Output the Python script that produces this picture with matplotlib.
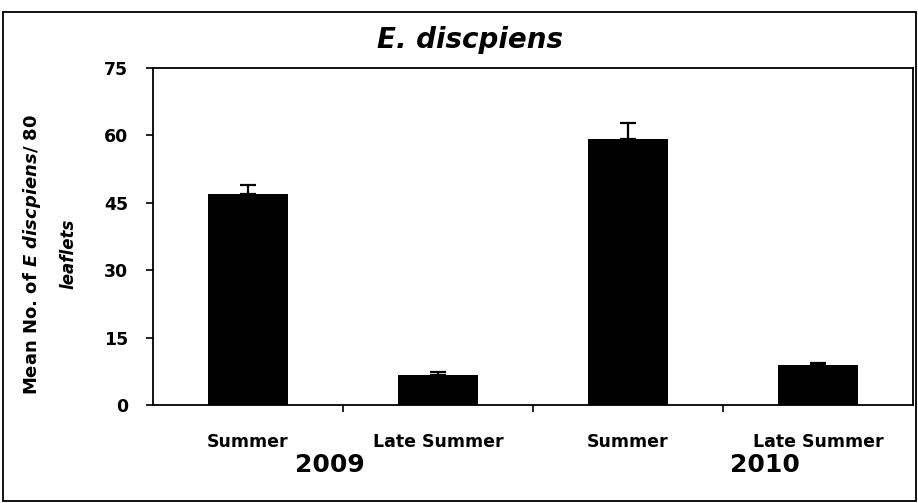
import matplotlib
matplotlib.use("Agg")
import matplotlib.pyplot as plt
from matplotlib.patches import Rectangle

categories = ["Summer", "Late Summer", "Summer", "Late Summer"]
means = [47.0, 6.7, 59.2, 8.9]
errors = [2.0, 0.6, 3.6, 0.5]
years = ["2009", "2010"]
year_pos = [0.43, 2.72]
yticks = [0, 15, 30, 45, 60, 75]

plt.rcParams['font.family'] = ['DejaVu Sans']
plt.rcParams['mathtext.fontset'] = 'custom'
plt.rcParams['mathtext.it'] = 'DejaVu Sans:italic:bold'
plt.rcParams['mathtext.rm'] = 'DejaVu Sans:bold'

W, H = 918, 503
fig = plt.figure(figsize=(W / 100, H / 100), dpi=100)
ax = fig.add_axes([153 / W, (H - 405) / H, 760 / W, 337 / H])

x = list(range(len(categories)))
ax.bar(x, means, width=0.42, color='black', zorder=2)
ax.errorbar(x, means, yerr=[[0] * len(errors), errors], fmt='none',
            ecolor='black', elinewidth=1.6, capsize=5.5, capthick=1.6, zorder=3)

ax.set_xlim(-0.5, len(categories) - 0.5)
ax.set_ylim(0, 75)
ax.set_yticks(yticks)
ax.set_yticklabels([str(v) for v in yticks], fontsize=12.5, fontweight='bold')
ax.tick_params(axis='y', direction='out', length=5, width=1.2, pad=13)

ax.set_xticks(x)
ax.set_xticklabels(categories, fontsize=12.5, fontweight='bold')
ax.tick_params(axis='x', which='major', length=0, pad=20)
ax.set_xticks([0.5, 1.5, 2.5], minor=True)
ax.tick_params(axis='x', which='minor', direction='out', length=5, width=1.2)

for s in ax.spines.values():
    s.set_linewidth(1.3)
    s.set_color('black')

for yr, xp in zip(years, year_pos):
    ax.text(xp, -0.20, yr, transform=ax.get_xaxis_transform(), ha='center',
            va='baseline', fontsize=18, fontweight='bold')

fig.text(470 / W, (H - 48) / H, "E. discpiens", ha='center', va='baseline',
         fontsize=20, fontweight='bold', style='italic')

fig.text(32 / W, (H - 254) / H, r"Mean No. of $\mathit{E\ discpiens}$/ 80",
         rotation=90, ha='center', va='center', fontsize=13, fontweight='bold')
fig.text(68 / W, (H - 254) / H, "leaflets", rotation=90, ha='center',
         va='center', fontsize=12, fontweight='bold', style='italic')

fig.patches.append(Rectangle((3 / W, 2 / H), 913 / W, 489 / H,
                             transform=fig.transFigure, fill=False,
                             edgecolor='black', linewidth=1.3))

fig.savefig("out.png", dpi=100)
